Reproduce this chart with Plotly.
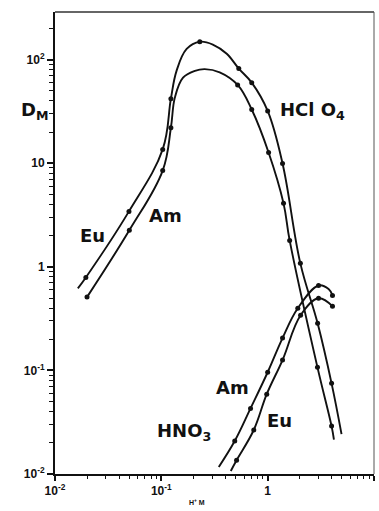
import plotly.graph_objects as go

# Distribution ratio D_M of Eu and Am versus acid concentration (log-log)

# HClO4 medium - measured points
eu_hclo4_x = [0.0195, 0.0496, 0.103, 0.123, 0.23, 0.535, 0.708, 1.0, 1.38, 2.03, 2.95, 3.99]
eu_hclo4_d = [0.79, 3.43, 13.6, 42, 149, 82, 60, 32, 9.95, 1.08, 0.285, 0.075]
am_hclo4_x = [0.02, 0.05, 0.103, 0.123, 0.522, 0.708, 1.02, 1.41, 1.61, 2.94, 3.99]
am_hclo4_d = [0.51, 2.25, 8.5, 22, 57, 33, 12.7, 4.1, 1.8, 0.107, 0.029]

# HNO3 medium - measured points
am_hno3_x = [0.49, 0.69, 1.0, 1.38, 1.92, 3.01, 4.07]
am_hno3_d = [0.0208, 0.043, 0.096, 0.205, 0.398, 0.66, 0.53]
eu_hno3_x = [0.51, 0.74, 0.98, 1.38, 2.04, 3.01, 4.07]
eu_hno3_d = [0.0136, 0.0266, 0.059, 0.126, 0.341, 0.497, 0.416]

# extra points along the drawn curves (line ends, maxima) without a symbol
eu_hclo4_curve_x = [0.0164, 0.139, 0.173, 0.305, 0.412, 4.95]
eu_hclo4_curve_d = [0.62, 78, 127, 140, 114, 0.0243]
am_hclo4_curve_x = [0.134, 0.160, 0.207, 0.256, 0.354, 4.2]
am_hclo4_curve_d = [43, 67, 78, 81, 75.5, 0.0215]
am_hno3_curve_x = [0.347, 3.74]
am_hno3_curve_d = [0.0117, 0.61]
eu_hno3_curve_x = [0.45]
eu_hno3_curve_d = [0.0107]

x_ticks = [0.01, 0.1, 1, 10]
x_ticktext = ["10<sup>-2</sup>", "10<sup>-1</sup>", "1", "10"]
y_ticks = [0.01, 0.1, 1, 10, 100]
y_ticktext = ["10<sup>-2</sup>", "10<sup>-1</sup>", "1", "10", "10<sup>2</sup>"]

LABEL_FONT = "DejaVu Sans"
TICK_FONT = "Liberation Sans"
INK = "#111111"


def merged(px, pd_, cx, cd):
    pts = sorted(zip(list(px) + list(cx), list(pd_) + list(cd)))
    return [p[0] for p in pts], [p[1] for p in pts]


fig = go.Figure()
series = [
    (eu_hclo4_x, eu_hclo4_d, eu_hclo4_curve_x, eu_hclo4_curve_d),
    (am_hclo4_x, am_hclo4_d, am_hclo4_curve_x, am_hclo4_curve_d),
    (am_hno3_x, am_hno3_d, am_hno3_curve_x, am_hno3_curve_d),
    (eu_hno3_x, eu_hno3_d, eu_hno3_curve_x, eu_hno3_curve_d),
]
for px, pd_, cx, cd in series:
    lx, ld = merged(px, pd_, cx, cd)
    fig.add_trace(go.Scatter(x=lx, y=ld, mode="lines",
                             line=dict(color=INK, width=1.9, shape="spline", smoothing=1.1),
                             hoverinfo="skip", showlegend=False))
    fig.add_trace(go.Scatter(x=px, y=pd_, mode="markers",
                             marker=dict(color=INK, size=5),
                             showlegend=False))


def minor_vals(lo, hi):
    vals = []
    for e in range(lo, hi + 1):
        for m in range(2, 10):
            vals.append(m * 10.0 ** e)
    return vals


fig.update_xaxes(type="log", range=[-2, 1], tickvals=x_ticks, ticktext=x_ticktext,
                 ticks="outside", ticklen=5, tickwidth=1.5, tickcolor=INK,
                 showline=True, linewidth=2, linecolor=INK, mirror=False,
                 showgrid=False, zeroline=False,
                 minor=dict(tickvals=minor_vals(-2, 0), ticks="outside", ticklen=3,
                            tickwidth=1.2, tickcolor=INK, showgrid=False),
                 tickfont=dict(family=TICK_FONT, size=12, color=INK, weight="bold"))
fig.update_yaxes(type="log", range=[-2, 2.46], tickvals=y_ticks, ticktext=y_ticktext,
                 ticks="outside", ticklen=6, tickwidth=1.5, tickcolor=INK,
                 showline=True, linewidth=2, linecolor=INK, mirror=False,
                 showgrid=False, zeroline=False,
                 minor=dict(tickvals=minor_vals(-2, 2)[:-6], ticks="outside", ticklen=4,
                            tickwidth=1.2, tickcolor=INK, showgrid=False),
                 tickfont=dict(family=TICK_FONT, size=12, color=INK, weight="bold"))

# frame on top and right
fig.add_shape(type="line", xref="paper", yref="paper", x0=0, x1=1, y0=1, y1=1,
              line=dict(color="#333333", width=1.3))
fig.add_shape(type="line", xref="paper", yref="paper", x0=1, x1=1, y0=0, y1=1,
              line=dict(color="#555555", width=1))

labels = [
    ("Eu", -1.643, 0.304),
    ("Am", -0.958, 0.496),
    ("HCl O<sub>4</sub>", 0.42, 1.508),
    ("HNO<sub>3</sub>", -0.789, -1.595),
    ("Am", -0.329, -1.161),
    ("Eu", 0.113, -1.480),
]
for txt, ax_, ay_ in labels:
    fig.add_annotation(x=ax_, y=ay_, xref="x", yref="y", text=txt, showarrow=False,
                       font=dict(family=LABEL_FONT, size=18, color=INK, weight="bold"))

fig.add_annotation(x=-0.112, y=0.816, xref="paper", yref="paper", xanchor="left",
                   text="D<sub>M</sub>", showarrow=False,
                   font=dict(family=LABEL_FONT, size=18, color=INK, weight="bold"))
fig.add_annotation(x=0.445, y=-0.061, xref="paper", yref="paper", yanchor="middle",
                   text="H<sup>+</sup> M", showarrow=False,
                   font=dict(family=TICK_FONT, size=7, color=INK, weight="bold"))

fig.update_layout(width=379, height=511, margin=dict(l=55, r=5, t=12, b=37),
                  paper_bgcolor="white", plot_bgcolor="white")

fig.write_html("out.html")
